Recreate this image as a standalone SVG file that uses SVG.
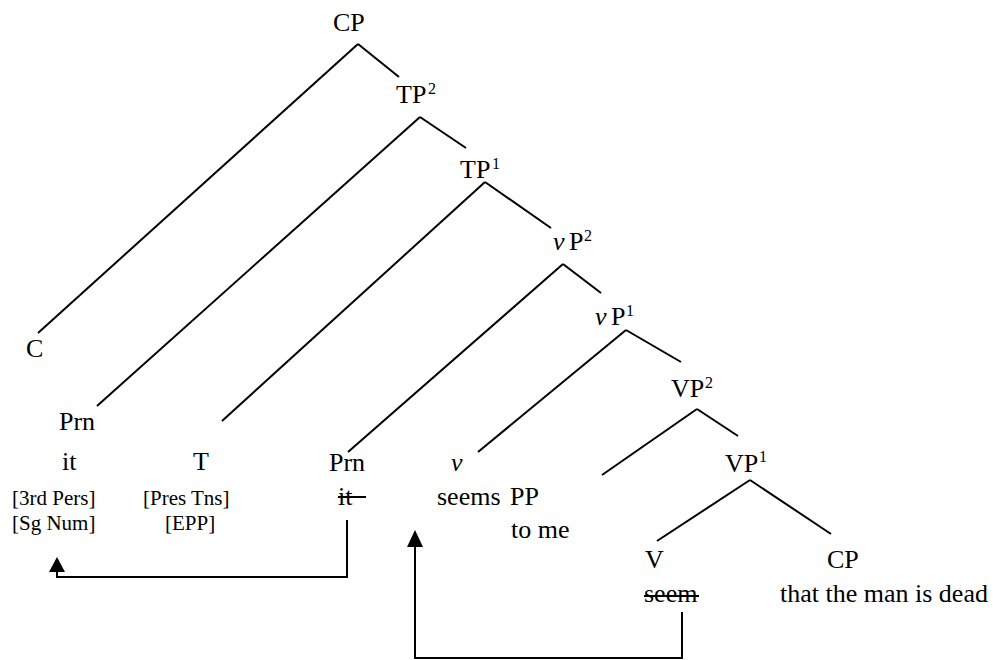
<svg xmlns="http://www.w3.org/2000/svg" width="993" height="660" viewBox="0 0 993 660">
<style>
text{font-family:"Liberation Serif","Times New Roman",serif;fill:#000;}
.m{font-size:26px;}
.s{font-size:21px;}
.sup{font-size:16px;}
.i{font-style:italic;}
.ln{stroke:#000;stroke-width:2;fill:none;}
</style>
<rect width="993" height="660" fill="#fff"/>
<g id="connectors">
<line class="ln" x1="358" y1="44" x2="38" y2="333"/>
<line class="ln" x1="358" y1="44" x2="399" y2="77"/>
<line class="ln" x1="420" y1="117" x2="97" y2="406"/>
<line class="ln" x1="420" y1="117" x2="466" y2="148"/>
<line class="ln" x1="485" y1="182" x2="222" y2="421"/>
<line class="ln" x1="485" y1="182" x2="551" y2="228"/>
<line class="ln" x1="563" y1="264" x2="348" y2="452"/>
<line class="ln" x1="563" y1="264" x2="601" y2="293"/>
<line class="ln" x1="626" y1="330" x2="478" y2="452"/>
<line class="ln" x1="626" y1="330" x2="681" y2="362"/>
<line class="ln" x1="697" y1="409" x2="602" y2="475"/>
<line class="ln" x1="697" y1="409" x2="738" y2="436"/>
<line class="ln" x1="750" y1="480" x2="657" y2="541"/>
<line class="ln" x1="750" y1="480" x2="831" y2="534"/>
<polyline class="ln" points="347,520 347,577 57,577 57,570"/>
<polygon points="57,557 49,572 65,572" fill="#000"/>
<polyline class="ln" points="682,612 682,658 415,658 415,546"/>
<polygon points="415,530 407,547 423,547" fill="#000"/>
</g>
<g id="n-cp"><text class="m" x="333" y="31">CP</text></g>
<g id="n-tp2"><text class="m" x="396" y="103">TP</text><text class="sup" x="428" y="94">2</text></g>
<g id="n-tp1"><text class="m" x="460" y="178">TP</text><text class="sup" x="492" y="169">1</text></g>
<g id="n-vp2"><text class="m i" x="553" y="250">v</text><text class="m" x="569" y="250">P</text><text class="sup" x="584" y="241">2</text></g>
<g id="n-vp1"><text class="m i" x="595" y="325">v</text><text class="m" x="611" y="325">P</text><text class="sup" x="626" y="316">1</text></g>
<g id="n-VP2"><text class="m" x="671" y="397">VP</text><text class="sup" x="705" y="388">2</text></g>
<g id="n-VP1"><text class="m" x="725" y="472">VP</text><text class="sup" x="759" y="462">1</text></g>
<g id="n-c"><text class="m" x="26" y="357">C</text></g>
<g id="n-prn1">
<text class="m" x="59" y="430">Prn</text>
<text class="m" x="62" y="470">it</text>
<text class="s" x="12" y="505">[3rd Pers]</text>
<text class="s" x="12" y="530">[Sg Num]</text>
</g>
<g id="n-t">
<text class="m" x="193" y="470">T</text>
<text class="s" x="143" y="505">[Pres Tns]</text>
<text class="s" x="165" y="530">[EPP]</text>
</g>
<g id="n-prn2">
<text class="m" x="329" y="471">Prn</text>
<text class="m" x="338" y="505">it</text>
<line class="ln" x1="338" y1="497" x2="366" y2="497"/>
</g>
<g id="n-v">
<text class="m i" x="451" y="471">v</text>
<text class="m" x="437" y="505">seems</text>
</g>
<g id="n-pp">
<text class="m" x="510" y="505">PP</text>
<text class="m" x="511" y="538">to me</text>
</g>
<g id="n-V">
<text class="m" x="645" y="568">V</text>
<text class="m" x="644" y="602">seem</text>
<line class="ln" x1="644" y1="596" x2="699" y2="596"/>
</g>
<g id="n-cp2">
<text class="m" x="827" y="568">CP</text>
<text class="m" x="780" y="602">that the man is dead</text>
</g>
</svg>
